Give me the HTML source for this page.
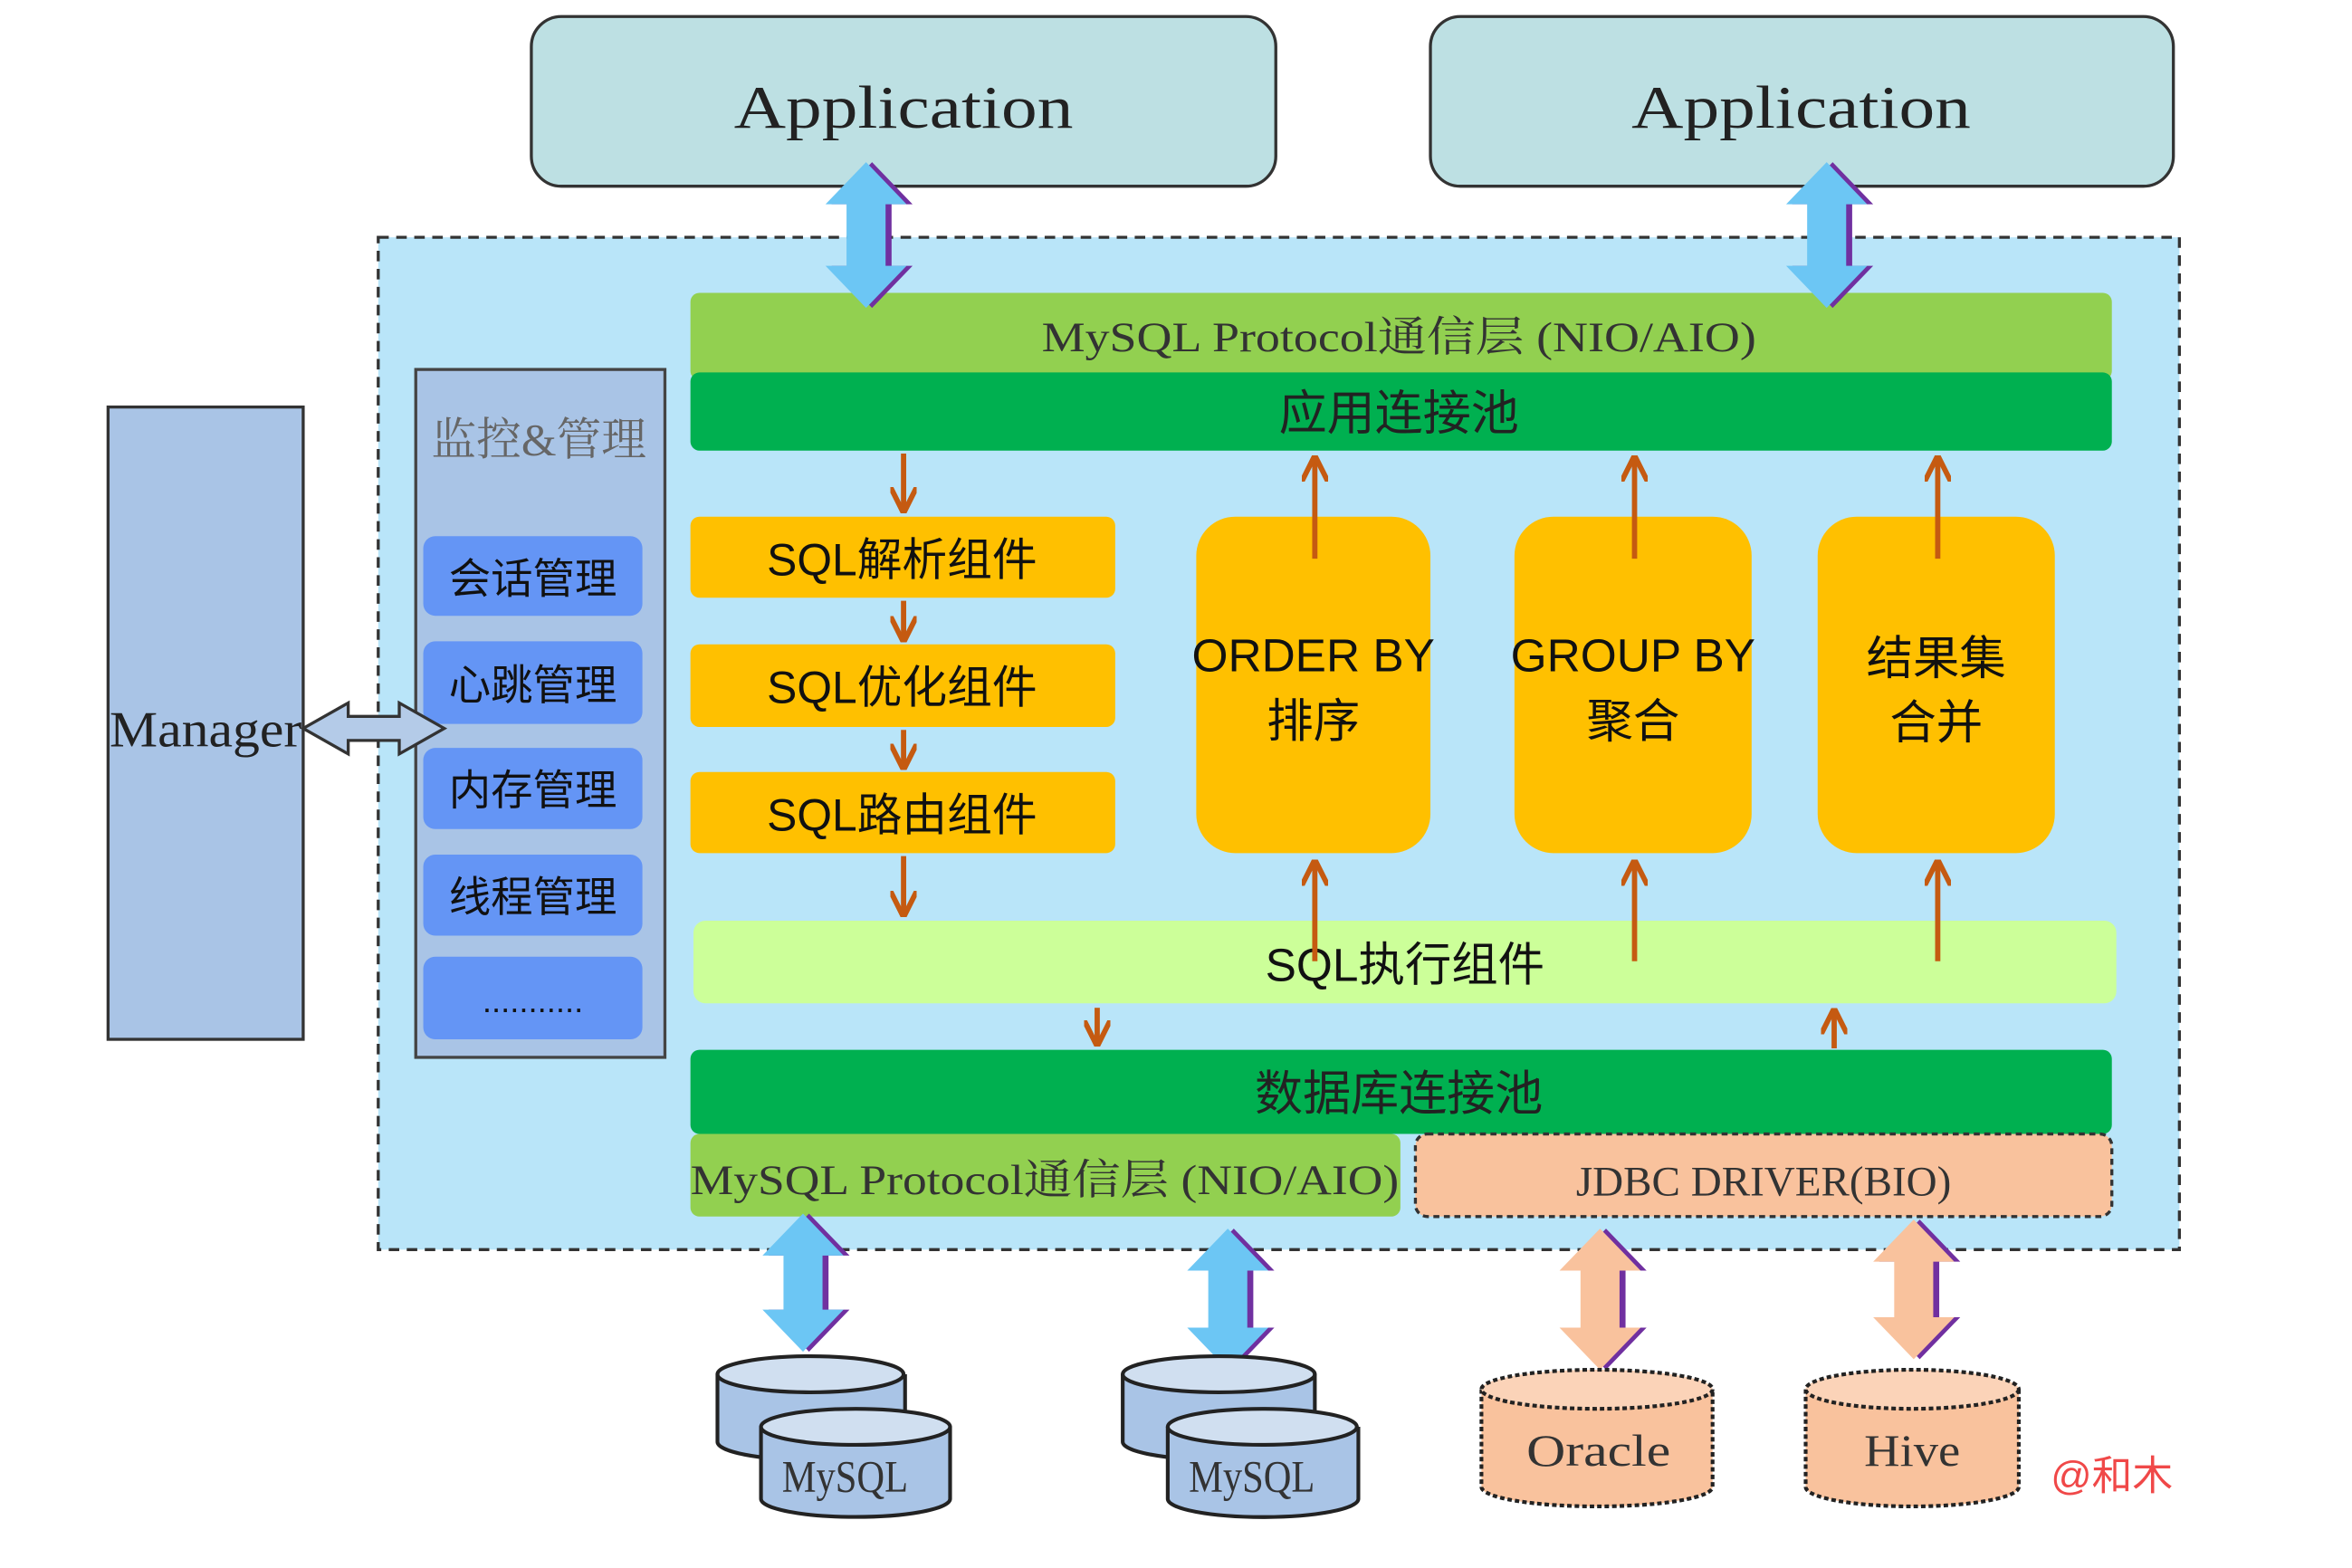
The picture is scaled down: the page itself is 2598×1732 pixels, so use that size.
<!DOCTYPE html>
<html><head><meta charset="utf-8"><style>
html,body{margin:0;padding:0;background:#fff;}
svg{display:block;}
.serif{font-family:"Liberation Serif","Noto Serif CJK SC",serif;}
.sans{font-family:"Liberation Sans","Noto Sans CJK SC",sans-serif;}
</style></head><body>
<svg width="2598" height="1732" viewBox="0 0 1567 1044" preserveAspectRatio="none" xmlns="http://www.w3.org/2000/svg">
<defs>
<marker id="ah" viewBox="0 0 10 10" refX="9" refY="5" markerWidth="5" markerHeight="5" orient="auto-start-reverse">
<path d="M0,0 L10,5 L0,10" fill="none" stroke="#c55a11" stroke-width="2"/>
</marker>
</defs>
<rect width="1567" height="1044" fill="#fff"/>
<rect x="354" y="11" width="496" height="113" rx="20" fill="#bde0e3" stroke="#333" stroke-width="2"/>
<rect x="953" y="11" width="495" height="113" rx="20" fill="#bde0e3" stroke="#333" stroke-width="2"/>
<text class="serif" x="602" y="85" font-size="40" text-anchor="middle" textLength="226" lengthAdjust="spacingAndGlyphs" fill="#222">Application</text>
<text class="serif" x="1200" y="85" font-size="40" text-anchor="middle" textLength="226" lengthAdjust="spacingAndGlyphs" fill="#222">Application</text>
<rect x="252" y="158" width="1200" height="674" fill="#b9e5f9" stroke="#333" stroke-width="2" stroke-dasharray="7,5"/>
<rect x="72" y="271" width="130" height="421" fill="#a9c4e6" stroke="#333" stroke-width="2"/>
<text class="serif" x="137" y="497" font-size="34" text-anchor="middle" textLength="128" lengthAdjust="spacingAndGlyphs" fill="#222">Manager</text>
<rect x="277" y="246" width="166" height="458" fill="#a9c4e6" stroke="#444" stroke-width="2"/>
<text class="serif" x="359" y="303" font-size="30" text-anchor="middle" fill="#666">监控&amp;管理</text>
<g class="sans" font-size="28" text-anchor="middle" fill="#111">
<rect x="282" y="357" width="146" height="53" rx="8" fill="#6495f5"/><text x="355" y="395">会话管理</text>
<rect x="282" y="427" width="146" height="55" rx="8" fill="#6495f5"/><text x="355" y="466">心跳管理</text>
<rect x="282" y="498" width="146" height="54" rx="8" fill="#6495f5"/><text x="355" y="536">内存管理</text>
<rect x="282" y="569" width="146" height="54" rx="8" fill="#6495f5"/><text x="355" y="607">线程管理</text>
<rect x="282" y="637" width="146" height="55" rx="8" fill="#6495f5"/><text x="355" y="674" font-size="22">...........</text>
</g>
<polygon points="202,485 232,468 232,477 266,477 266,468 296,485 266,502 266,493 232,493 232,502" fill="#b4cbe8" stroke="#333" stroke-width="2"/>
<rect x="460" y="195" width="947" height="58" rx="6" fill="#92d050"/>
<text class="serif" x="932" y="234" font-size="28" text-anchor="middle" textLength="476" lengthAdjust="spacingAndGlyphs" fill="#333">MySQL Protocol通信层 (NIO/AIO)</text>
<rect x="460" y="248" width="947" height="52" rx="6" fill="#00b050"/>
<text class="sans" x="932" y="286" font-size="32" text-anchor="middle" fill="#222">应用连接池</text>
<g class="sans" font-size="30" text-anchor="middle" fill="#111">
<rect x="460" y="344" width="283" height="54" rx="6" fill="#ffc000"/><text x="601" y="383">SQL解析组件</text>
<rect x="460" y="429" width="283" height="55" rx="6" fill="#ffc000"/><text x="601" y="468">SQL优化组件</text>
<rect x="460" y="514" width="283" height="54" rx="6" fill="#ffc000"/><text x="601" y="553">SQL路由组件</text>
</g>
<g class="sans" font-size="31" text-anchor="middle" fill="#111">
<rect x="797" y="344" width="156" height="224" rx="26" fill="#ffc000"/>
<text x="875" y="447">ORDER BY</text><text x="875" y="491">排序</text>
<rect x="1009" y="344" width="158" height="224" rx="26" fill="#ffc000"/>
<text x="1088" y="447">GROUP BY</text><text x="1088" y="491">聚合</text>
<rect x="1211" y="344" width="158" height="224" rx="26" fill="#ffc000"/>
<text x="1290" y="449">结果集</text><text x="1290" y="492">合并</text>
</g>
<rect x="462" y="613" width="948" height="55" rx="8" fill="#ccff99"/>
<text class="sans" x="936" y="653" font-size="31" text-anchor="middle" fill="#111">SQL执行组件</text>
<rect x="460" y="699" width="947" height="56" rx="6" fill="#00b050"/>
<text class="sans" x="932" y="739" font-size="32" text-anchor="middle" fill="#222">数据库连接池</text>
<rect x="460" y="755" width="473" height="55" rx="6" fill="#92d050"/>
<text class="serif" x="696" y="795" font-size="28" text-anchor="middle" textLength="472" lengthAdjust="spacingAndGlyphs" fill="#333">MySQL Protocol通信层 (NIO/AIO)</text>
<rect x="943" y="755" width="464" height="55" rx="8" fill="#f9c29d" stroke="#333" stroke-width="2" stroke-dasharray="4,3"/>
<text class="serif" x="1175" y="796" font-size="28" text-anchor="middle" textLength="250" lengthAdjust="spacingAndGlyphs" fill="#333">JDBC DRIVER(BIO)</text>
<g stroke="#c55a11" stroke-width="3.5" fill="none" marker-end="url(#ah)">
<line x1="602" y1="302" x2="602" y2="340"/>
<line x1="602" y1="400" x2="602" y2="426"/>
<line x1="602" y1="486" x2="602" y2="511"/>
<line x1="602" y1="570" x2="602" y2="609"/>
<line x1="876" y1="372" x2="876" y2="305"/>
<line x1="1089" y1="372" x2="1089" y2="305"/>
<line x1="1291" y1="372" x2="1291" y2="305"/>
<line x1="876" y1="640" x2="876" y2="574"/>
<line x1="1089" y1="640" x2="1089" y2="574"/>
<line x1="1291" y1="640" x2="1291" y2="574"/>
<line x1="731" y1="671" x2="731" y2="695"/>
<line x1="1222" y1="698" x2="1222" y2="673"/>
</g>
<g>
<polygon transform="translate(581,108)" points="0,0 27,28 13,28 13,69 27,69 0,97 -27,69 -13,69 -13,28 -27,28" fill="#7030a0"/>
<polygon transform="translate(577,108)" points="0,0 27,28 13,28 13,69 27,69 0,97 -27,69 -13,69 -13,28 -27,28" fill="#6cc6f4"/>
<polygon transform="translate(1221,108)" points="0,0 27,28 13,28 13,69 27,69 0,97 -27,69 -13,69 -13,28 -27,28" fill="#7030a0"/>
<polygon transform="translate(1217,108)" points="0,0 27,28 13,28 13,69 27,69 0,97 -27,69 -13,69 -13,28 -27,28" fill="#6cc6f4"/>
<polygon transform="translate(539,808)" points="0,0 27,28 13,28 13,64 27,64 0,92 -27,64 -13,64 -13,28 -27,28" fill="#7030a0"/>
<polygon transform="translate(535,808)" points="0,0 27,28 13,28 13,64 27,64 0,92 -27,64 -13,64 -13,28 -27,28" fill="#6cc6f4"/>
<polygon transform="translate(822,818)" points="0,0 27,28 13,28 13,66 27,66 0,94 -27,66 -13,66 -13,28 -27,28" fill="#7030a0"/>
<polygon transform="translate(818,818)" points="0,0 27,28 13,28 13,66 27,66 0,94 -27,66 -13,66 -13,28 -27,28" fill="#6cc6f4"/>
<polygon transform="translate(1070,818)" points="0,0 27,28 13,28 13,66 27,66 0,94 -27,66 -13,66 -13,28 -27,28" fill="#7030a0"/>
<polygon transform="translate(1066,818)" points="0,0 27,28 13,28 13,66 27,66 0,94 -27,66 -13,66 -13,28 -27,28" fill="#f9c29d"/>
<polygon transform="translate(1279,812)" points="0,0 27,28 13,28 13,65 27,65 0,93 -27,65 -13,65 -13,28 -27,28" fill="#7030a0"/>
<polygon transform="translate(1275,812)" points="0,0 27,28 13,28 13,65 27,65 0,93 -27,65 -13,65 -13,28 -27,28" fill="#f9c29d"/>
</g>
<g stroke="#222" stroke-width="2.5">
<path d="M478,915 L478,960 A62,12 0 0 0 603,960 L603,915" fill="#a9c4e6"/>
<ellipse cx="540" cy="915" rx="62" ry="12" fill="#d0dff0"/>
<path d="M507,950 L507,998 A63,12 0 0 0 633,998 L633,950" fill="#a9c4e6"/>
<ellipse cx="570" cy="950" rx="63" ry="12" fill="#d0dff0"/>
<path d="M748,915 L748,960 A64,12 0 0 0 876,960 L876,915" fill="#a9c4e6"/>
<ellipse cx="812" cy="915" rx="64" ry="12" fill="#d0dff0"/>
<path d="M778,950 L778,998 A63,12 0 0 0 905,998 L905,950" fill="#a9c4e6"/>
<ellipse cx="841" cy="950" rx="63" ry="12" fill="#d0dff0"/>
</g>
<g stroke="#222" stroke-width="2.5" stroke-dasharray="3,2">
<path d="M987,925 L987,990 A77,13 0 0 0 1141,990 L1141,925" fill="#f9c29d"/>
<ellipse cx="1064" cy="925" rx="77" ry="13" fill="#fbd3b8"/>
<path d="M1203,925 L1203,990 A71,13 0 0 0 1345,990 L1345,925" fill="#f9c29d"/>
<ellipse cx="1274" cy="925" rx="71" ry="13" fill="#fbd3b8"/>
</g>
<g class="serif" font-size="30" text-anchor="middle" fill="#333">
<text x="563" y="993" textLength="84" lengthAdjust="spacingAndGlyphs">MySQL</text>
<text x="834" y="993" textLength="84" lengthAdjust="spacingAndGlyphs">MySQL</text>
<text x="1065" y="976" textLength="96" lengthAdjust="spacingAndGlyphs">Oracle</text>
<text x="1274" y="976" textLength="64" lengthAdjust="spacingAndGlyphs">Hive</text>
</g>
<text class="sans" x="1407" y="992" font-size="27" text-anchor="middle" fill="#f04848">@和木</text>
</svg>
</body></html>
